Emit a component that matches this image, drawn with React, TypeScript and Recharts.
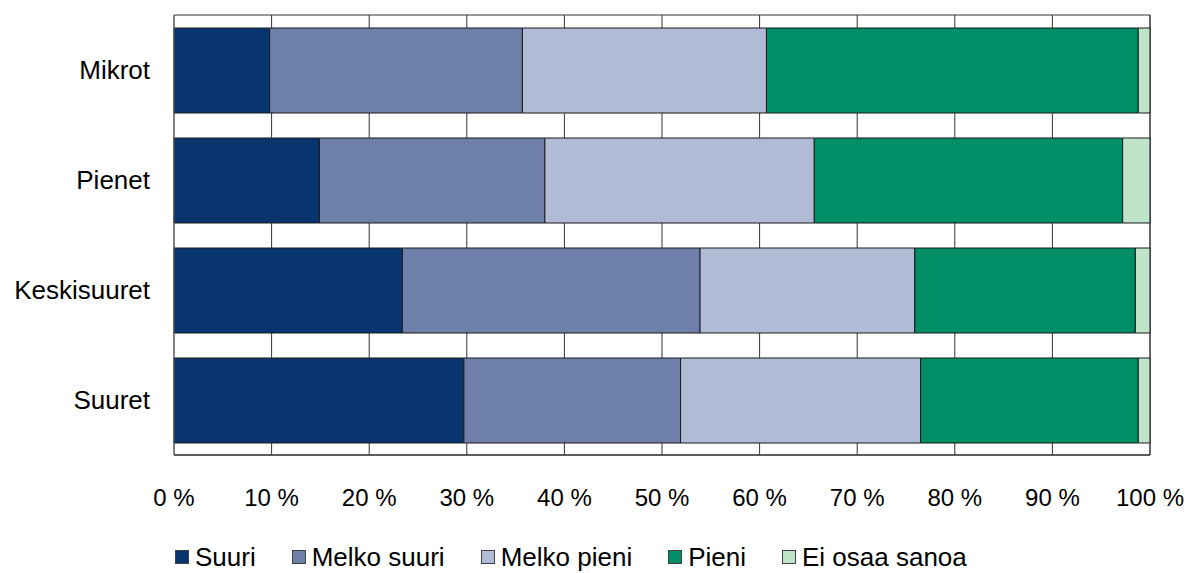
import React from 'react';
import { BarChart, Bar, XAxis, YAxis, CartesianGrid, Legend } from 'recharts';

const categories = ['Mikrot', 'Pienet', 'Keskisuuret', 'Suuret'];
const suuri = [9.8, 14.9, 23.4, 29.7];
const melkoSuuri = [25.9, 23.1, 30.5, 22.2];
const melkoPieni = [25.0, 27.6, 22.0, 24.6];
const pieni = [38.1, 31.6, 22.6, 22.3];
const eiOsaa = [1.2, 2.8, 1.5, 1.2];
const xTicks = [0, 10, 20, 30, 40, 50, 60, 70, 80, 90, 100];

const seriesNames = ['Suuri', 'Melko suuri', 'Melko pieni', 'Pieni', 'Ei osaa sanoa'];
const seriesColors = ['#08356e', '#6e80aa', '#b1bbd5', '#008e67', '#c0e4ca'];
const seriesValues = [suuri, melkoSuuri, melkoPieni, pieni, eiOsaa];

const data = categories.map((c, i) => {
  const row: Record<string, any> = { name: c };
  seriesNames.forEach((s, j) => {
    row[s] = seriesValues[j][i];
  });
  return row;
});

const FONT = '"Liberation Sans", Arial, sans-serif';

const LegendContent = () => (
  <div style={{ display: 'flex', whiteSpace: 'nowrap', fontFamily: FONT, fontSize: 26, lineHeight: '22px', color: '#000', alignItems: 'center' }}>
    {seriesNames.map((s, i) => (
      <div key={s} style={{ display: 'flex', alignItems: 'center', marginRight: 36 }}>
        <span style={{ display: 'inline-block', width: 12, height: 12, background: seriesColors[i], border: '1px solid #404040', marginRight: 6 }} />
        <span>{s}</span>
      </div>
    ))}
  </div>
);

export default function App() {
  return (
    <div style={{ position: 'absolute', left: 0, top: 0, background: '#fff' }}>
      <BarChart
        width={1189}
        height={573}
        data={data}
        layout="vertical"
        margin={{ top: 15, right: 39, bottom: 0, left: 0 }}
      >
        <CartesianGrid
          horizontal={true}
          vertical={true}
          stroke="#333"
          strokeWidth={1}
          horizontalCoordinatesGenerator={({ offset }: any) => [offset.top, offset.top + offset.height]}
        />
        <XAxis
          type="number"
          domain={[0, 100]}
          ticks={xTicks}
          interval={0}
          tickFormatter={(v) => `${v} %`}
          height={118}
          tickLine={false}
          tickSize={0}
          tickMargin={34}
          axisLine={{ stroke: '#222' }}
          tick={{ fill: '#000', fontSize: 24, fontFamily: FONT }}
        />
        <YAxis
          type="category"
          dataKey="name"
          width={174}
          tickLine={false}
          tickSize={0}
          tickMargin={24}
          axisLine={{ stroke: '#666' }}
          tick={{ fill: '#000', fontSize: 26, fontFamily: FONT }}
        />
        <Legend
          verticalAlign="middle"
          align="center"
          layout="horizontal"
          content={<LegendContent />}
          wrapperStyle={{ left: 175, top: 546, width: 900 }}
        />
        {seriesNames.map((s, i) => (
          <Bar
            key={s}
            dataKey={s}
            stackId="a"
            fill={seriesColors[i]}
            stroke="#1a1a1a"
            strokeWidth={1}
            barSize={85}
            isAnimationActive={false}
          />
        ))}
      </BarChart>
    </div>
  );
}
